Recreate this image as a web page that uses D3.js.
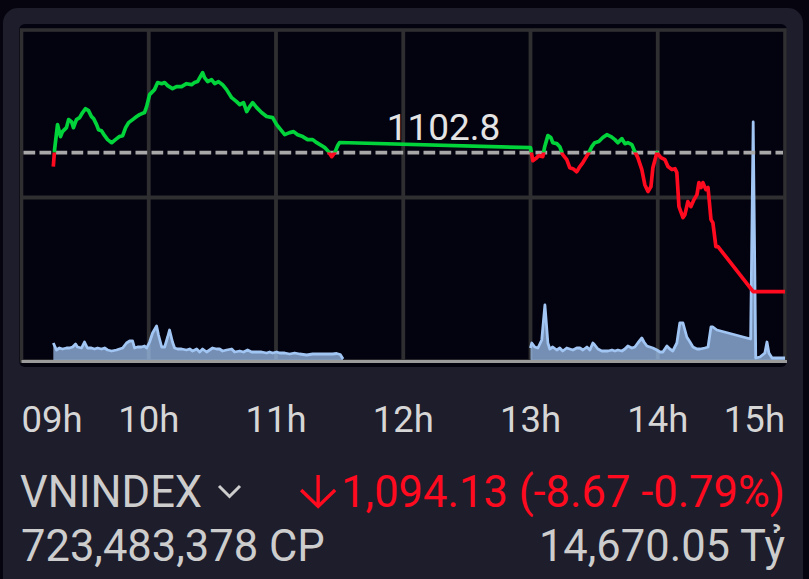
<!DOCTYPE html>
<html>
<head>
<meta charset="utf-8">
<script src="https://cdn.jsdelivr.net/npm/d3@7/dist/d3.min.js"></script>
<style>
  html, body { margin: 0; padding: 0; background: #05040f; }
  svg { display: block; }
  text { font-family: Roboto, "Noto Sans", sans-serif; }
</style>
</head>
<body>
<svg id="chart" width="809" height="579"></svg>
<script>
// ---------------- DATA ----------------
// minutes after 09:00
const priceTimes = [
  15, 15.6, 17.0, 18.4, 19.3, 21.2, 22.2, 23.6, 24.5, 25.9, 27.4, 28.8, 30.2, 31.6, 33.0, 34.0,
  35.4, 36.3, 37.7, 39.2, 40.6, 42.5, 44.3, 46.2, 47.7, 49.1, 50.5, 52.4, 54.3, 55.7, 58.0, 59.0,
  60.4, 62.7, 64.2, 66.1, 67.5, 68.9, 71.2, 73.1, 75.5, 77.8, 80.2, 81.6, 83.0, 85.4, 86.3, 87.8,
  89.6, 91.1, 92.9, 94.8, 96.7, 99.1, 101.4, 102.9, 104.7, 106.2, 107.6, 109.0, 110.9, 113.2, 115.6,
  118.4, 120.3, 122.2, 124.1, 126.4, 128.3, 130.2, 132.6, 134.9, 137.3, 139.2, 141.5, 143.0, 144.4,
  146.3, 147.7, 149.1, 150.0,
  240.0, 241.1, 242.5, 243.9, 245.8, 246.7, 248.2, 249.6, 250.5, 252.4, 253.8, 255.2, 257.1, 258.5,
  260.0, 261.8, 263.3, 264.7, 266.1, 267.5, 268.9, 270.3, 272.2, 274.1, 276.0, 277.9, 279.8, 281.2,
  283.1, 284.5, 285.9, 287.8, 289.2, 290.6, 292.5, 293.9, 295.4, 296.8, 297.7, 299.6, 301.5, 303.4,
  304.8, 306.7, 308.1, 309.0, 310.0, 311.9, 312.8, 314.2, 315.6, 317.1, 318.5, 319.4, 320.4, 321.3,
  322.7, 323.7, 325.1, 326.0, 327.4, 328.4, 345, 360
];
const priceValues = [
  1101.93, 1102.99, 1104.55, 1103.80, 1104.11, 1104.36, 1104.86, 1104.73, 1104.36, 1104.86, 1104.98, 1105.30, 1105.54, 1105.42, 1105.05, 1104.92,
  1104.55, 1104.23, 1104.17, 1103.86, 1103.61, 1103.42, 1103.61, 1103.80, 1103.86, 1104.36, 1104.67, 1104.86, 1105.05, 1105.17, 1105.30, 1105.67,
  1106.42, 1106.73, 1107.17, 1107.10, 1107.17, 1106.98, 1106.79, 1106.92, 1106.92, 1107.10, 1107.04, 1107.17, 1107.23, 1107.79, 1107.48, 1107.23,
  1107.35, 1107.10, 1107.23, 1107.04, 1106.73, 1106.23, 1105.98, 1105.79, 1105.92, 1105.36, 1105.67, 1105.92, 1105.61, 1105.30, 1105.05,
  1104.98, 1104.55, 1104.23, 1103.92, 1104.05, 1104.11, 1103.92, 1103.80, 1103.61, 1103.61, 1103.42, 1103.24, 1103.11, 1102.92,
  1102.55, 1102.80, 1103.24, 1103.43,
  1103.11, 1102.30, 1102.43, 1102.61, 1102.55, 1103.17, 1103.86, 1103.74, 1103.42, 1103.36, 1103.17, 1102.68, 1102.36, 1101.86,
  1101.80, 1101.61, 1101.93, 1102.18, 1102.49, 1102.80, 1103.17, 1103.42, 1103.49, 1103.74, 1103.92, 1103.80, 1103.61, 1103.42,
  1103.67, 1103.36, 1103.42, 1103.30, 1102.86, 1102.49, 1101.74, 1100.80, 1100.37, 1100.68, 1101.86, 1102.80, 1102.49, 1102.36,
  1101.93, 1101.74, 1101.80, 1101.55, 1099.43, 1098.75, 1098.93, 1099.74, 1099.43, 1099.87, 1100.18, 1100.93, 1100.62, 1100.93,
  1100.49, 1100.62, 1098.62, 1098.43, 1096.94, 1096.94, 1094.13, 1094.13
];

// volume (million shares) ; null = lunch break gap
const volTimes = [
  15, 16.5, 17.9, 19.3, 21.2, 22.6, 24.1, 25.5, 26.4, 28.3, 29.7, 31.1, 33.0, 34.4, 35.9, 37.7, 39.2,
  40.6, 42.5, 44.8, 46.2, 47.7, 49.5, 51.0, 52.4, 53.3, 54.7, 56.6, 58.0, 59.0, 60.4, 61.8, 63.7,
  64.6, 66.1, 67.5, 68.9, 69.8, 71.2, 72.2, 73.6, 75.5, 77.8, 79.3, 80.7, 82.6, 84.0, 85.4, 87.3,
  88.7, 90.1, 92.0, 93.4, 94.8, 96.7, 99.1, 100.5, 102.9, 104.7, 106.6, 108.5, 110.9, 113.2, 115.6,
  117.0, 118.4, 120.3, 121.7, 124.1, 126.4, 128.8, 131.2, 134.5, 137.3, 140.6, 143.9, 146.7, 148.6, 150.3, 151.6,
  195,
  240.0, 240.6, 242.0, 243.5, 245.3, 246.8, 248.2, 249.1, 250.5, 252.4, 253.8, 255.2, 257.1, 258.5, 260.0,
  261.8, 263.3, 264.7, 266.6, 268.0, 269.4, 270.3, 271.8, 273.6, 275.1, 276.5, 278.4, 279.8, 281.2, 283.1,
  284.5, 285.9, 287.8, 289.2, 290.6, 292.5, 293.5, 294.9, 296.3, 297.7, 299.6, 301.0, 302.4, 304.3, 305.7,
  307.1, 309.0, 310.4, 311.9, 312.8, 313.7, 315.2, 316.6, 318.5, 319.9, 322.2, 323.7, 325.1, 326.0, 327.9,
  343.8, 345.0, 346.2, 348.2, 350.5, 351.5, 352.4, 353.9, 360
];
const volValues = [
  3.4, 2.0, 2.4, 2.2, 2.4, 2.4, 2.6, 3.2, 2.6, 2.4, 3.6, 2.4, 2.4, 2.2, 2.4, 2.2, 2.4,
  2.0, 1.8, 2.0, 2.2, 2.4, 3.4, 3.8, 3.8, 2.4, 2.6, 2.6, 2.8, 2.4, 3.6, 5.4, 6.8,
  5.0, 2.6, 2.6, 4.6, 6.0, 3.6, 2.4, 2.2, 2.2, 2.0, 2.2, 1.8, 2.2, 1.6, 2.2, 1.6,
  2.0, 2.4, 2.2, 2.2, 1.8, 2.0, 2.2, 1.6, 1.8, 1.6, 2.0, 1.6, 1.6, 1.6, 1.4,
  1.6, 1.4, 1.6, 1.4, 1.4, 1.2, 1.4, 1.2, 1.0, 1.2, 1.2, 1.2, 1.2, 1.3, 1.1, 0.2,
  null,
  2.4, 3.4, 2.6, 2.4, 4.0, 11.0, 3.4, 2.2, 2.6, 2.0, 2.4, 1.8, 2.4, 2.2, 2.0,
  2.4, 2.4, 2.0, 2.6, 2.0, 3.4, 3.0, 2.2, 1.8, 1.8, 1.8, 2.0, 1.8, 2.0, 1.8,
  2.2, 2.8, 2.4, 2.6, 3.4, 4.4, 3.6, 2.8, 2.6, 2.4, 2.0, 1.6, 1.6, 2.8, 2.2,
  1.8, 3.4, 7.4, 7.4, 6.0, 4.6, 3.6, 2.6, 2.2, 2.2, 2.4, 2.6, 6.6, 6.6, 6.0,
  4.2, 47.6, 0.4, 0.6, 1.4, 3.6, 1.4, 0.4, 0.4
];

const referencePrice = 1102.8;
const referenceLabelTime = 199;
const hourTicks = [0, 60, 120, 180, 240, 300, 360];
const hourLabels = ["09h", "10h", "11h", "12h", "13h", "14h", "15h"];
const gridPrices = [1100];

const indexName = "VNINDEX";
const changeText = "1,094.13 (-8.67 -0.79%)";
const volumeText = "723,483,378 CP";
const valueText = "14,670.05 T\u1ef7";

// ---------------- DRAW ----------------
const svg = d3.select("#chart");
const W = 809, H = 579;
const plot = { left: 21.5, right: 785, top: 30, bottom: 361 };

const x = d3.scaleLinear().domain([0, 360]).range([plot.left, plot.right]);
const y = d3.scaleLinear().domain([1089.8, 1110.45]).range([plot.bottom, plot.top]);
const yv = d3.scaleLinear().domain([0, 60]).range([plot.bottom - 1, plot.bottom - 301]);

const price = priceTimes.map((t, i) => ({ t, v: priceValues[i] }));
const vol = volTimes.map((t, i) => ({ t, v: volValues[i] }));

// page background + card
svg.append("rect").attr("width", W).attr("height", H).attr("fill", "#05040f");
svg.append("rect").attr("x", 3).attr("y", 8).attr("width", 800).attr("height", 600)
  .attr("rx", 15).attr("fill", "#1e1d2b");

// plot background
svg.append("rect").attr("x", 19).attr("y", 24).attr("width", 768).attr("height", 343)
  .attr("rx", 6).attr("fill", "#03020f");

const gridColor = "#2f2f31";
svg.append("g").selectAll("line").data(hourTicks.slice(1, -1)).join("line")
  .attr("x1", d => x(d)).attr("x2", d => x(d))
  .attr("y1", plot.top).attr("y2", plot.bottom)
  .attr("stroke", gridColor).attr("stroke-width", 3.8);
svg.append("g").selectAll("line").data(gridPrices).join("line")
  .attr("x1", plot.left).attr("x2", plot.right)
  .attr("y1", d => y(d)).attr("y2", d => y(d))
  .attr("stroke", gridColor).attr("stroke-width", 3.8);
svg.append("rect").attr("x", plot.left).attr("y", plot.top)
  .attr("width", plot.right - plot.left).attr("height", plot.bottom - plot.top)
  .attr("fill", "none").attr("stroke", gridColor).attr("stroke-width", 3.6);

// volume area
const area = d3.area().defined(d => d.v != null)
  .x(d => x(d.t)).y0(yv(0)).y1(d => yv(d.v));
const vline = d3.line().defined(d => d.v != null)
  .x(d => x(d.t)).y(d => yv(d.v));
svg.append("path").datum(vol).attr("d", area)
  .attr("fill", "#a2c6f4").attr("fill-opacity", 0.72);
svg.append("path").datum(vol).attr("d", vline)
  .attr("fill", "none").attr("stroke", "#a2c6f4").attr("stroke-width", 2.8)
  .attr("stroke-linejoin", "round");

// bottom axis line
svg.append("line").attr("x1", plot.left).attr("x2", plot.right + 2)
  .attr("y1", plot.bottom + 0.5).attr("y2", plot.bottom + 0.5)
  .attr("stroke", "#9b9b9b").attr("stroke-width", 3);

// reference dashed line
svg.append("line").attr("x1", plot.left + 2).attr("x2", plot.right - 2)
  .attr("y1", y(referencePrice)).attr("y2", y(referencePrice))
  .attr("stroke", "#a8a8a8").attr("stroke-width", 3.6)
  .attr("stroke-dasharray", "11.7,4.3");

// price line, green above ref / red below
const defs = svg.append("defs");
defs.append("clipPath").attr("id", "above").append("rect")
  .attr("x", 0).attr("y", 0).attr("width", W).attr("height", y(referencePrice));
defs.append("clipPath").attr("id", "below").append("rect")
  .attr("x", 0).attr("y", y(referencePrice)).attr("width", W).attr("height", H);
const pline = d3.line().x(d => x(d.t)).y(d => y(d.v));
svg.append("path").datum(price).attr("d", pline).attr("clip-path", "url(#above)")
  .attr("fill", "none").attr("stroke", "#00d43a").attr("stroke-width", 3.7)
  .attr("stroke-linejoin", "round");
svg.append("path").datum(price).attr("d", pline).attr("clip-path", "url(#below)")
  .attr("fill", "none").attr("stroke", "#ff0a1e").attr("stroke-width", 3.7)
  .attr("stroke-linejoin", "round");

// reference label
svg.append("text").attr("x", x(referenceLabelTime)).attr("y", y(referencePrice) - 13)
  .attr("text-anchor", "middle").attr("font-size", 37).attr("fill", "#e4e4e4")
  .text(d3.format(".1f")(referencePrice));

// hour labels
svg.append("g").selectAll("text").data(hourTicks).join("text")
  .attr("x", d => x(d))
  .attr("y", 432)
  .attr("text-anchor", (d, i) => i === 0 ? "start" : (i === hourTicks.length - 1 ? "end" : "middle"))
  .attr("font-size", 36.5).attr("fill", "#d6d6d6")
  .text((d, i) => hourLabels[i]);

// bottom info
const textGray = "#cdcdcd";
const red = "#ff0a1e";
svg.append("text").attr("x", 20).attr("y", 507).attr("font-size", 43.5).attr("fill", textGray)
  .text(indexName);
svg.append("path").attr("d", "M219,486 L229.5,496.5 L240,486")
  .attr("fill", "none").attr("stroke", textGray).attr("stroke-width", 3);
const chText = svg.append("text").attr("x", 785).attr("y", 507).attr("text-anchor", "end")
  .attr("font-size", 43.5).attr("fill", red).text(changeText);
// down arrow icon placed just left of the change text
const bb = chText.node().getBBox();
const ax = bb.x - 23;
svg.append("path")
  .attr("d", `M${ax},475 L${ax},506 M${ax - 17},490 L${ax},506.5 L${ax + 17},490`)
  .attr("fill", "none").attr("stroke", red).attr("stroke-width", 3.4)
  .attr("stroke-linejoin", "miter");
svg.append("text").attr("x", 21).attr("y", 561).attr("font-size", 43.5).attr("fill", textGray)
  .text(volumeText);
svg.append("text").attr("x", 785).attr("y", 561).attr("text-anchor", "end")
  .attr("font-size", 43.5).attr("fill", textGray).text(valueText);
</script>
</body>
</html>
